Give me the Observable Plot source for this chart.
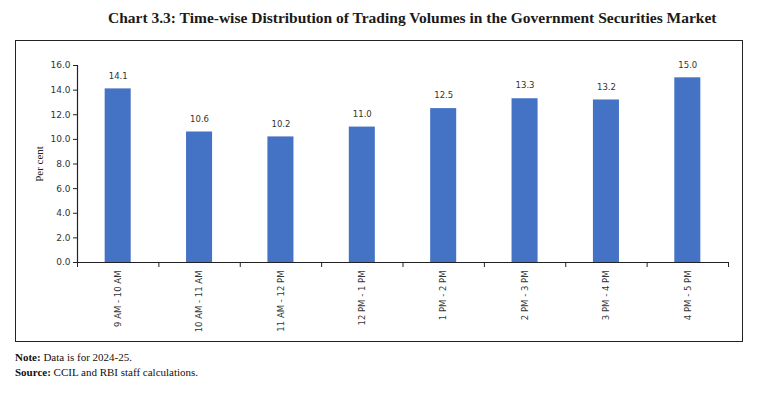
<!DOCTYPE html>
<html>
<head>
<meta charset="utf-8">
<script src="https://cdn.jsdelivr.net/npm/d3@7"></script>
<script src="https://cdn.jsdelivr.net/npm/@observablehq/plot@0.6"></script>
<style>
  html, body { margin: 0; padding: 0; background: #fff; }
  #page { position: relative; width: 759px; height: 393px; overflow: hidden; }
  #title { position: absolute; left: 108px; top: 9px; white-space: nowrap;
    font-family: "Liberation Serif", serif; font-weight: bold; font-size: 15.5px; color: #1a1a1a; }
  #box { position: absolute; left: 15px; top: 40px; width: 728px; height: 302px; border: 1.5px solid #222; box-sizing: border-box; }
  #chart { position: absolute; left: 0; top: 40px; }
  #notes { position: absolute; left: 15px; top: 350px; font-family: "Liberation Serif", serif; font-size: 11px; color: #111; line-height: 15px; }
</style>
</head>
<body>
<div id="page">
  <div id="title">Chart 3.3: Time-wise Distribution of Trading Volumes in the Government Securities Market</div>
  <div id="box"></div>
  <div id="chart"></div>
  <div id="notes"><div><b>Note:</b> Data is for 2024-25.</div><div><b>Source:</b> CCIL and RBI staff calculations.</div></div>
</div>
<script>
const categories = ["9 AM - 10 AM", "10 AM - 11 AM", "11 AM - 12 PM", "12 PM - 1 PM", "1 PM - 2 PM", "2 PM - 3 PM", "3 PM - 4 PM", "4 PM - 5 PM"];
const values = [14.1, 10.6, 10.2, 11.0, 12.5, 13.3, 13.2, 15.0];
const yTicks = [0, 2, 4, 6, 8, 10, 12, 14, 16];
const yLabel = "Per cent";

const idx = categories.map((_, i) => i);
const halfBar = 0.16;

const plot = Plot.plot({
  width: 759,
  height: 301,
  marginLeft: 77,
  marginRight: 31,
  marginTop: 25,
  marginBottom: 79,
  style: { fontFamily: "DejaVu Sans, sans-serif", fontSize: "8.5px", color: "#333", background: "transparent" },
  x: { type: "linear", domain: [-0.5, categories.length - 0.5] },
  y: { domain: [0, 16] },
  marks: [
    Plot.rectY(values, { x1: (d, i) => i - halfBar, x2: (d, i) => i + halfBar, y: d => d, fill: "#4472C4" }),
    Plot.text(values, { x: (d, i) => i, y: d => d, text: d => d.toFixed(1), dy: -13, fill: "#333" }),
    Plot.ruleY([0], { stroke: "#222", strokeWidth: 1.2 }),
    Plot.ruleX([-0.5], { y1: 0, y2: 16, stroke: "#222", strokeWidth: 1.2 }),
    Plot.axisY({ ticks: yTicks, tickFormat: d => d.toFixed(1), tickSize: 4, tickPadding: 3, stroke: "#222", label: null, fontSize: "9px" }),
    Plot.axisY({ ticks: [], label: yLabel, labelAnchor: "center", labelOffset: 42, labelArrow: "none",
      fontFamily: "Liberation Serif, serif", fontSize: "11px", fill: "#222" }),
    Plot.axisX({ ticks: d3.range(categories.length + 1).map(i => i - 0.5), tickFormat: () => "", tickSize: 5, stroke: "#222", label: null }),
    Plot.axisX({ ticks: idx, tickFormat: i => categories[i], tickSize: 0, tickPadding: 8, tickRotate: -90, label: null })
  ]
});
document.getElementById("chart").appendChild(plot);
</script>
</body>
</html>
